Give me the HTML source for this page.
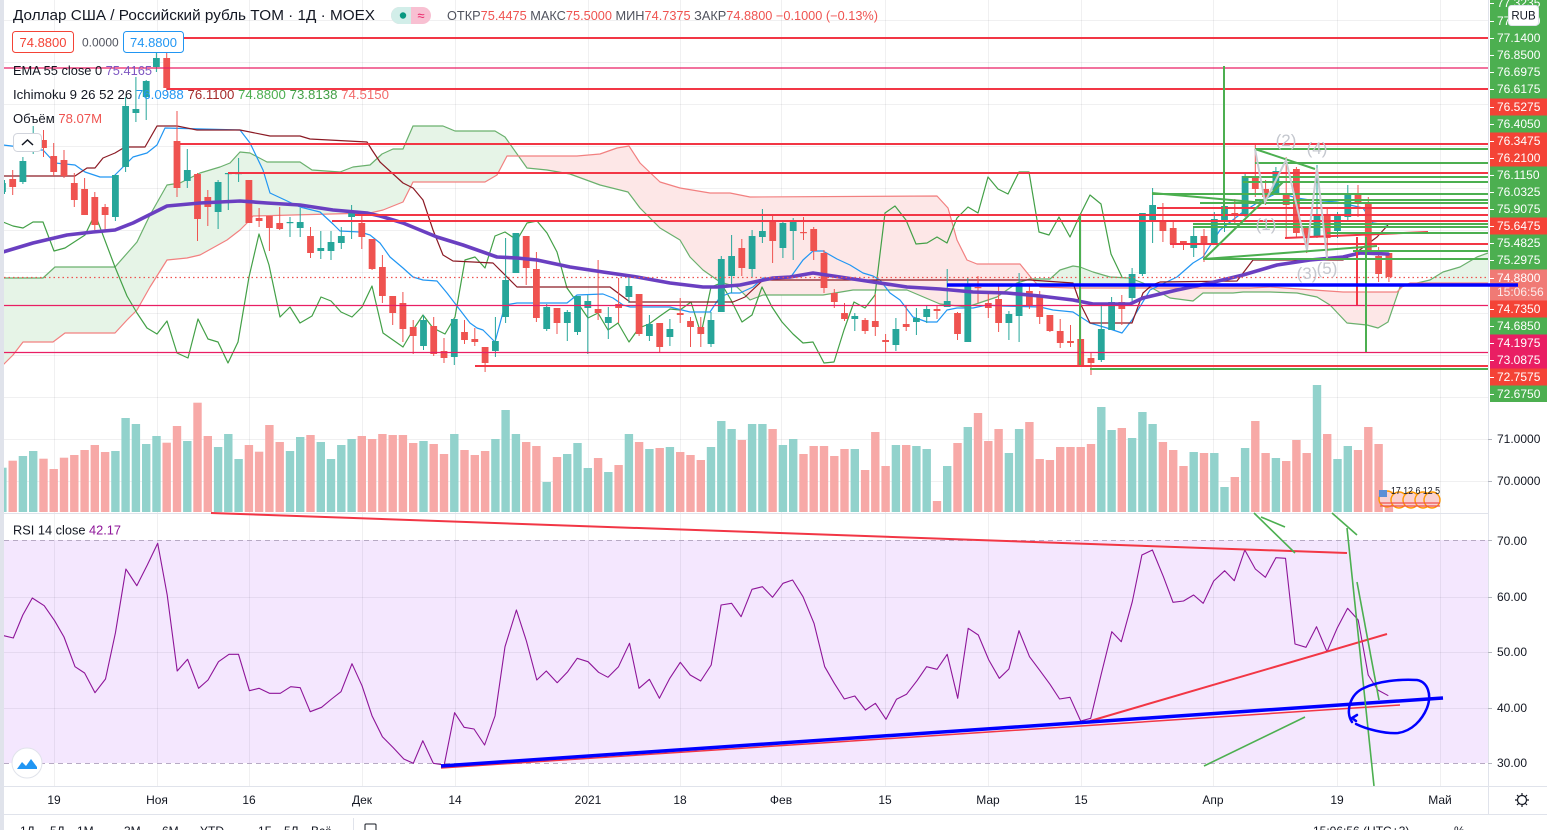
<!DOCTYPE html>
<html><head><meta charset="utf-8">
<style>
html,body{margin:0;padding:0;background:#fff;width:1547px;height:830px;overflow:hidden}
svg{display:block}
text{font-family:"Liberation Sans","DejaVu Sans",sans-serif}
</style></head><body>
<svg id="c" width="1547" height="830" viewBox="0 0 1547 830" xmlns="http://www.w3.org/2000/svg">
<rect width="1547" height="830" fill="#fff"/>
<!-- RSI background -->
<rect x="4" y="540" width="1484" height="223" fill="#f4e7fe"/>
<!-- grid -->
<g stroke="rgba(42,46,57,0.07)" stroke-width="1" fill="none">
<path d="M54.5 0V786M157.5 0V786M249.5 0V786M362.5 0V786M455.5 0V786M588.5 0V786M680.5 0V786M781.5 0V786M885.5 0V786M988.5 0V786M1081.5 0V786M1213.5 0V786M1337.5 0V786M1440.5 0V786"/>
<path d="M4 20.5H1488M4 62.5H1488M4 104.5H1488M4 146.5H1488M4 188.5H1488M4 230.5H1488M4 272.5H1488M4 313.5H1488M4 355.5H1488M4 397.5H1488M4 439.5H1488M4 481.5H1488M4 597.5H1488M4 652.5H1488M4 708.5H1488"/>
</g>
<line x1="4" y1="540.5" x2="1488" y2="540.5" stroke="#b7aac4" stroke-dasharray="5,4"/>
<line x1="4" y1="763.5" x2="1488" y2="763.5" stroke="#b7aac4" stroke-dasharray="5,4"/>
<line x1="4" y1="513.5" x2="1488" y2="513.5" stroke="#e0e3eb"/>

<!-- volume -->
<g id="vol"></g>

<!-- ichimoku cloud -->
<defs>
<clipPath id="ab"><polygon points="3,0 3,365 13,355 23,342 53,342 65,333 115,333 127,320 137,310 150,287 167,260 187,258 200,255 227,240 240,230 247,223 253,216 370,213 383,210 403,202 413,182 485,182 497,175 507,156 577,156 600,154 617,148 629,146 640,163 660,182 680,188 710,193 730,193 750,197 937,196 948,208 957,240 967,260 977,264 1020,264 1033,280 1040,287 1073,288 1250,288 1270,287 1343,292 1397,292 1403,286 1410,283 1488,283 1488,0"/></clipPath>
<clipPath id="bb"><polygon points="3,830 3,365 13,355 23,342 53,342 65,333 115,333 127,320 137,310 150,287 167,260 187,258 200,255 227,240 240,230 247,223 253,216 370,213 383,210 403,202 413,182 485,182 497,175 507,156 577,156 600,154 617,148 629,146 640,163 660,182 680,188 710,193 730,193 750,197 937,196 948,208 957,240 967,260 977,264 1020,264 1033,280 1040,287 1073,288 1250,288 1270,287 1343,292 1397,292 1403,286 1410,283 1488,283 1488,830"/></clipPath>
</defs>
<polygon clip-path="url(#ab)" fill="#e6f4e7" points="3,278 43,278 55,267 65,267 115,267 137,242 150,215 167,185 180,183 200,173 220,167 230,163 240,152 250,153 267,162 300,162 312,170 340,172 353,167 370,165 382,154 393,149 403,149 413,126 443,126 455,131 495,131 505,137 527,168 547,170 570,174 600,185 628,192 640,208 660,228 680,240 690,257 703,270 720,282 737,287 750,300 763,295 823,295 853,290 907,290 940,304 967,307 997,297 1017,283 1030,279 1050,279 1060,270 1073,266 1080,267 1093,272 1110,277 1130,278 1143,283 1170,298 1193,301 1203,293 1233,293 1243,292 1270,292 1297,293 1317,297 1330,305 1347,323 1367,325 1378,328 1388,322 1400,287 1430,280 1443,272 1460,267 1477,257 1488,253 1488,283 1410,283 1403,286 1397,292 1343,292 1270,287 1250,288 1073,288 1040,287 1033,280 1020,264 977,264 967,260 957,240 948,208 937,196 750,197 730,193 710,193 680,188 660,182 640,163 629,146 617,148 600,154 577,156 507,156 497,175 485,182 413,182 403,202 383,210 370,213 253,216 247,223 240,230 227,240 200,255 187,258 167,260 150,287 137,310 127,320 115,333 65,333 53,342 23,342 13,355 3,365"/>
<polygon clip-path="url(#bb)" fill="#fde7e7" points="3,278 43,278 55,267 65,267 115,267 137,242 150,215 167,185 180,183 200,173 220,167 230,163 240,152 250,153 267,162 300,162 312,170 340,172 353,167 370,165 382,154 393,149 403,149 413,126 443,126 455,131 495,131 505,137 527,168 547,170 570,174 600,185 628,192 640,208 660,228 680,240 690,257 703,270 720,282 737,287 750,300 763,295 823,295 853,290 907,290 940,304 967,307 997,297 1017,283 1030,279 1050,279 1060,270 1073,266 1080,267 1093,272 1110,277 1130,278 1143,283 1170,298 1193,301 1203,293 1233,293 1243,292 1270,292 1297,293 1317,297 1330,305 1347,323 1367,325 1378,328 1388,322 1400,287 1430,280 1443,272 1460,267 1477,257 1488,253 1488,283 1410,283 1403,286 1397,292 1343,292 1270,287 1250,288 1073,288 1040,287 1033,280 1020,264 977,264 967,260 957,240 948,208 937,196 750,197 730,193 710,193 680,188 660,182 640,163 629,146 617,148 600,154 577,156 507,156 497,175 485,182 413,182 403,202 383,210 370,213 253,216 247,223 240,230 227,240 200,255 187,258 167,260 150,287 137,310 127,320 115,333 65,333 53,342 23,342 13,355 3,365"/>
<g fill="none" stroke-width="1.2" stroke-linejoin="round">
<polyline stroke="#6ab06d" points="3,278 43,278 55,267 65,267 115,267 137,242 150,215 167,185 180,183 200,173 220,167 230,163 240,152 250,153 267,162 300,162 312,170 340,172 353,167 370,165 382,154 393,149 403,149 413,126 443,126 455,131 495,131 505,137 527,168 547,170 570,174 600,185 628,192 640,208 660,228 680,240 690,257 703,270 720,282 737,287 750,300 763,295 823,295 853,290 907,290 940,304 967,307 997,297 1017,283 1030,279 1050,279 1060,270 1073,266 1080,267 1093,272 1110,277 1130,278 1143,283 1170,298 1193,301 1203,293 1233,293 1243,292 1270,292 1297,293 1317,297 1330,305 1347,323 1367,325 1378,328 1388,322 1400,287 1430,280 1443,272 1460,267 1477,257 1488,253"/>
<polyline stroke="#f28080" points="3,365 13,355 23,342 53,342 65,333 115,333 127,320 137,310 150,287 167,260 187,258 200,255 227,240 240,230 247,223 253,216 370,213 383,210 403,202 413,182 485,182 497,175 507,156 577,156 600,154 617,148 629,146 640,163 660,182 680,188 710,193 730,193 750,197 937,196 948,208 957,240 967,260 977,264 1020,264 1033,280 1040,287 1073,288 1250,288 1270,287 1343,292 1397,292 1403,286 1410,283 1488,283"/>
<!-- chikou -->
<polyline stroke="#43a047" points="3,222 13,226 23,228 33,222 43,222 54,251 65,248 85,235 95,214 115,267 127,296 137,313 147,328 157,334 167,321 177,353 188,358 198,319 208,339 218,342 228,363 238,342 249,277 259,234 269,265 280,317 290,307 300,323 312,316 321,297 331,301 341,312 352,317 362,307 372,286 383,333 403,347 413,330 423,315 433,328 445,334 455,317 465,260 475,257 485,268 495,236 505,232 517,240 527,223 537,221 547,233 557,252 567,288 577,302 588,318 598,313 608,330 618,323 629,342 639,328 649,324 660,316 670,309 680,310 691,302 701,334 711,287 721,283 731,300 742,322 752,315 762,287 772,307 782,322 793,334 803,343 813,342 824,363 834,362 844,330 854,302 865,308 875,295 885,213 895,206 906,220 916,244 927,243 937,237 947,243 957,218 968,207 978,213 988,177 998,189 1008,194 1019,172 1029,172 1039,232 1049,235 1059,217 1070,237 1080,215 1090,195 1101,204 1111,254 1122,277"/>
<!-- tenkan -->
<polyline stroke="#2196f3" points="3,145 20,147 33,150 43,150 55,163 75,165 85,172 100,177 113,177 123,167 133,157 147,153 157,145 165,128 240,130 250,143 263,170 270,193 300,207 320,212 333,224 340,231 360,232 370,235 380,243 390,257 403,268 413,277 423,280 437,281 447,293 460,310 470,323 477,328 483,330 495,342 505,305 517,303 567,303 577,295 603,294 613,298 623,305 630,307 670,307 690,312 710,312 720,297 730,293 740,293 753,287 763,278 790,278 803,260 813,251 823,251 837,259 850,265 863,273 873,276 880,280 890,293 900,300 913,317 927,322 937,322 947,310 957,308 973,308 987,305 1000,306 1040,307 1053,310 1073,312 1090,323 1107,328 1122,333 1132,320 1150,290 1177,277 1193,263 1203,257 1220,230 1243,212 1257,203 1277,193 1290,196 1297,198 1310,200 1337,202 1363,208 1373,223 1388,225"/>
<!-- kijun -->
<polyline stroke="#8b1a24" points="3,176 75,176 87,168 95,168 103,158 115,153 125,147 145,147 157,126 177,126 197,130 240,130 270,136 300,136 310,139 367,142 372,150 380,162 403,183 413,188 423,200 433,230 443,255 453,261 493,263 517,287 527,287 610,287 630,302 733,302 745,297 763,280 1030,280 1073,283 1080,303 1090,323 1132,323 1143,293 1152,285 1160,282 1237,281 1253,260 1343,260 1357,252 1377,237 1388,225"/>
</g>

<!-- candles -->
<g id="cdl"></g>

<!-- EMA 55 -->
<polyline fill="none" stroke="#6a3fc1" stroke-width="3.6" stroke-linejoin="round" stroke-linecap="round" points="3,252 33,243 67,235 93,232 115,230 133,223 153,213 167,206 200,203 240,201 267,203 300,205 333,210 367,213 380,216 403,223 437,237 463,245 497,257 517,258 537,260 570,267 603,272 637,277 670,283 703,287 717,287 740,285 773,278 790,277 813,273 840,277 873,282 907,287 940,289 973,292 1007,293 1040,296 1073,300 1093,304 1130,304 1143,298 1177,290 1210,283 1243,275 1277,265 1310,260 1343,257 1360,253 1388,254"/>

<!-- horizontal drawings -->
<g stroke-width="1.2">
<line x1="4" y1="68" x2="1488" y2="68" stroke="#e91e63"/>
<line x1="4" y1="305.5" x2="1488" y2="305.5" stroke="#e91e63"/>
<line x1="4" y1="352.5" x2="1488" y2="352.5" stroke="#e91e63"/>
<line x1="4" y1="277.5" x2="1488" y2="277.5" stroke="#ef5350" stroke-dasharray="1.5,3"/>
</g>
<g stroke-width="2" stroke="#f23645">
<line x1="184" y1="38" x2="1488" y2="38"/>
<line x1="167" y1="89" x2="1488" y2="89"/>
<line x1="180" y1="144" x2="1488" y2="144"/>
<line x1="228" y1="173" x2="1488" y2="173"/>
<line x1="355" y1="215" x2="1488" y2="215"/>
<line x1="332" y1="221" x2="1488" y2="221"/>
<line x1="475" y1="366" x2="1488" y2="366"/>
<line x1="1157" y1="208" x2="1488" y2="208"/>
<line x1="1170" y1="244" x2="1488" y2="244"/>
<line x1="1285" y1="238" x2="1428" y2="232"/>
<line x1="1357" y1="237" x2="1357" y2="305"/>
</g>
<g stroke-width="2" stroke="#4caf50">
<line x1="1090" y1="369" x2="1488" y2="369"/>
<line x1="1255" y1="149" x2="1488" y2="149"/>
<line x1="1255" y1="163" x2="1488" y2="163"/>
<line x1="1243" y1="177" x2="1488" y2="177"/>
<line x1="1243" y1="182" x2="1488" y2="182"/>
<line x1="1152" y1="194" x2="1488" y2="194"/>
<line x1="1255" y1="200" x2="1488" y2="200"/>
<line x1="1200" y1="203" x2="1488" y2="203"/>
<line x1="1193" y1="224" x2="1488" y2="224"/>
<line x1="1193" y1="227" x2="1488" y2="227"/>
<line x1="1327" y1="233" x2="1488" y2="233"/>
<line x1="1353" y1="251" x2="1488" y2="251"/>
<line x1="1203" y1="259" x2="1488" y2="259"/>
<line x1="1152" y1="193" x2="1265" y2="203"/>
<line x1="1204" y1="259" x2="1283" y2="182"/>
<line x1="1255" y1="149" x2="1315" y2="169"/>
<line x1="1204" y1="259" x2="1377" y2="246"/>
<line x1="1224" y1="66" x2="1224" y2="217"/>
<line x1="1366" y1="237" x2="1366" y2="352"/>
<line x1="1080" y1="215" x2="1080" y2="365"/>
</g>
<line x1="947" y1="285" x2="1518" y2="285" stroke="#0000ff" stroke-width="3.5"/>
<!-- elliott -->
<polyline fill="none" stroke="#c9ccd3" stroke-width="2" points="1255,149 1265,202 1286,160 1307,250 1317,168 1327,258"/>
<g font-size="17" fill="#c4c7ce" text-anchor="middle">
<text x="1266" y="230">(1)</text>
<text x="1286" y="146">(2)</text>
<text x="1307" y="279">(3)</text>
<text x="1317" y="154">(4)</text>
<text x="1327" y="274">(5)</text>
</g>

<!-- RSI -->
<polyline fill="none" stroke="#8e1599" stroke-width="1.1" stroke-linejoin="round" points="3.8,635.7 13.3,638 22.8,615 32.3,598 44.2,605.7 54.6,620.7 64,637 75,666.7 84.6,673 95,692.7 105.5,679 115.4,633 125.9,569 136.8,585.7 147.3,565 157.7,543.3 167.2,595 177.2,671 187.6,659.3 198.6,688.3 208,680 218.5,661.7 229,654.3 238.5,654.3 249.4,690.7 259,688.3 269.4,693.3 280.3,693.3 290.7,686.7 300.2,687.7 310.2,711.7 321.6,707.3 331.6,699 341,691.7 352,663.7 362,685.7 372,715.7 382.4,736.7 393.3,747.7 403.8,759 413.3,763.3 422.8,740.7 433.3,763.3 444.2,765 454.6,712.7 464.1,727.3 474,729 484.6,745 495,716 505,646.7 516.4,610 526.4,641 536.8,680 546.3,671 557.2,682.7 567.7,671.7 577.2,658.3 588,661.7 598.6,672.3 608,677.3 618.5,666.7 629.5,643.3 639,688.3 649.4,679.3 659.4,698.3 669.8,678.3 680.3,662.3 690.2,675 700.7,681 711.2,665 721.1,605 731.6,603.3 741.1,616.7 752,589.3 762.5,586.7 772.5,597.3 783,583.3 792.6,580 803,596.7 814,623.3 824.7,666.7 834.3,683.3 844.3,699 854.8,696 865.4,710 875.4,703.3 886,719.3 896.5,699.3 906.5,694.3 917,680.7 926.6,666.7 937,669.3 947.2,654.3 957.7,698.3 968.2,628.3 978.3,635 988.8,660 999.3,678.3 1008.9,669 1019,630.7 1029.5,656.7 1040,670.7 1050,684.3 1059.6,699 1070,697.3 1080.7,721 1090.7,718.3 1101.2,674.3 1111.8,631.7 1121.3,641.7 1132.3,601.7 1141.9,555 1152.4,550 1163.4,576.7 1173,602.3 1183.5,601 1193.6,595 1203.2,603.3 1213.7,581 1224.7,570.7 1234.3,580.7 1244.8,550 1255.3,569 1265.4,577.3 1275.9,557.7 1285.5,558.3 1295,644 1306,647.3 1316.5,626.7 1327,651.7 1337.1,628.3 1347.6,608.3 1358.2,620 1368.2,675 1377.8,690 1388.3,695.7"/>
<g stroke-width="2" stroke="#f23645">
<line x1="211" y1="513" x2="1347" y2="553"/>
<line x1="1090" y1="721" x2="1387" y2="634"/>
<line x1="441" y1="768" x2="1400" y2="705" stroke-width="1.5"/>
</g>
<line x1="441" y1="766" x2="1443" y2="698" stroke="#0000ff" stroke-width="3.5"/>
<g stroke="#4caf50" stroke-width="1.6">
<line x1="1254" y1="513" x2="1295" y2="553"/>
<line x1="1261" y1="517" x2="1285" y2="527"/>
<line x1="1332" y1="513" x2="1357" y2="535"/>
<line x1="1347" y1="528" x2="1374" y2="786"/>
<line x1="1357" y1="582" x2="1379" y2="700"/>
<line x1="1204" y1="766" x2="1305" y2="717"/>
</g>
<path d="M1352,722 C1345,712 1350,694 1364,688 C1378,681 1400,679 1417,680 C1428,682 1432,695 1427,708 C1422,720 1412,731 1398,733 C1385,734 1366,729 1356,724 M1357,715 L1352,718 L1356,721" fill="none" stroke="#0000ff" stroke-width="2.5" stroke-linecap="round"/>

<!-- legend -->
<text x="13" y="20" font-size="14.5" fill="#131722" textLength="362" lengthAdjust="spacingAndGlyphs">Доллар США / Российский рубль TOM · 1Д · MOEX</text>
<rect x="391" y="7" width="40" height="17" rx="8.5" fill="#f8c0d2"/>
<path d="M399.5,7 H411 V24 H399.5 A8.5,8.5 0 0 1 399.5,7 Z" fill="#d2eee9"/>
<circle cx="403" cy="15.5" r="3.2" fill="#089981"/>
<text x="421" y="20" font-size="13" fill="#e91e63" text-anchor="middle">≈</text>
<text x="447" y="20" font-size="12.5" textLength="431" lengthAdjust="spacingAndGlyphs"><tspan fill="#50535e">ОТКР</tspan><tspan fill="#ef5350">75.4475</tspan><tspan fill="#50535e"> МАКС</tspan><tspan fill="#ef5350">75.5000</tspan><tspan fill="#50535e"> МИН</tspan><tspan fill="#ef5350">74.7375</tspan><tspan fill="#50535e"> ЗАКР</tspan><tspan fill="#ef5350">74.8800 −0.1000 (−0.13%)</tspan></text>
<rect x="12.5" y="31.5" width="61" height="21" rx="3" fill="#fff" stroke="#f44336"/>
<text x="43" y="47" font-size="13" fill="#f44336" text-anchor="middle">74.8800</text>
<text x="82" y="46.5" font-size="12" fill="#50535e">0.0000</text>
<rect x="123.5" y="31.5" width="60" height="21" rx="3" fill="#fff" stroke="#2196f3"/>
<text x="153.5" y="47" font-size="13" fill="#2196f3" text-anchor="middle">74.8800</text>
<text x="13" y="75" font-size="13" textLength="139" lengthAdjust="spacingAndGlyphs"><tspan fill="#131722">EMA 55 close 0 </tspan><tspan fill="#7e57c2">75.4165</tspan></text>
<text x="13" y="99" font-size="13" textLength="376" lengthAdjust="spacingAndGlyphs"><tspan fill="#131722">Ichimoku 9 26 52 26 </tspan><tspan fill="#2196f3">76.0988 </tspan><tspan fill="#a52a2a">76.1100 </tspan><tspan fill="#4caf50">74.8800 </tspan><tspan fill="#43a047">73.8138 </tspan><tspan fill="#f26b6b">74.5150</tspan></text>
<text x="13" y="123" font-size="13" textLength="89" lengthAdjust="spacingAndGlyphs"><tspan fill="#131722">Объём </tspan><tspan fill="#ef5350">78.07M</tspan></text>
<rect x="13.5" y="133.5" width="28" height="18" rx="4" fill="#fff" stroke="#d1d4dc"/>
<path d="M22,145 L27.5,140 L33,145" fill="none" stroke="#131722" stroke-width="1.5"/>
<text x="13" y="534.5" font-size="13" textLength="108" lengthAdjust="spacingAndGlyphs"><tspan fill="#131722">RSI 14 close </tspan><tspan fill="#8e1599">42.17</tspan></text>

<!-- earnings icons -->
<g>
<circle cx="1387" cy="499" r="8" fill="#f9d2d2" stroke="#ff9800" stroke-width="1.4"/>
<circle cx="1399" cy="500" r="8" fill="#f9d2d2" stroke="#ff9800" stroke-width="1.4"/>
<circle cx="1411" cy="500" r="8" fill="#f9d2d2" stroke="#ff9800" stroke-width="1.4"/>
<circle cx="1423" cy="500" r="8" fill="#f9d2d2" stroke="#ff9800" stroke-width="1.4"/>
<circle cx="1432" cy="500" r="8" fill="#f9d2d2" stroke="#ff9800" stroke-width="1.4"/>
<path d="M1380,503 H1440 M1380,506 H1440" stroke="#ef5350" stroke-width="1.3"/>
<rect x="1379" y="490" width="8" height="7" fill="#5b8fd6"/>
<text x="1391" y="494" font-size="10" fill="#131722" textLength="49" lengthAdjust="spacingAndGlyphs">17 12 6 12 5</text>
</g>

<!-- TV logo -->
<circle cx="27" cy="763" r="15" fill="#fff" stroke="#e0e3eb"/>
<path d="M17,769 L22,762 L26,766 L31,759 L37,767 L37,769 Z" fill="#2196f3"/>

<!-- right axis -->
<rect x="1488" y="0" width="59" height="830" fill="#fff"/>
<line x1="1488.5" y1="0" x2="1488.5" y2="814" stroke="#e0e3eb"/>
<rect x="1490" y="0" width="57" height="402" fill="#4caf50"/>
<rect x="1490" y="98.5" width="57" height="17" fill="#f44336"/>
<rect x="1490" y="132.5" width="57" height="34" fill="#f44336"/>
<rect x="1490" y="217.5" width="57" height="17" fill="#f44336"/>
<rect x="1490" y="269.5" width="57" height="31" fill="#f07a75"/>
<rect x="1490" y="300.5" width="57" height="17" fill="#f44336"/>
<rect x="1490" y="334.5" width="57" height="34" fill="#e91e63"/>
<rect x="1490" y="368.5" width="57" height="17" fill="#f44336"/>
<line x1="1488" y1="285" x2="1518" y2="285" stroke="#0000ff" stroke-width="3.5"/>
<g stroke="#fff" stroke-width="1">
<path d="M1490 3.5H1494M1490 21.5H1494M1490 38.5H1494M1490 55.5H1494M1490 72.5H1494M1490 89.5H1494M1490 107.5H1494M1490 124.5H1494M1490 141.5H1494M1490 158.5H1494M1490 175.5H1494M1490 192.5H1494M1490 209.5H1494M1490 226.5H1494M1490 243.5H1494M1490 260.5H1494M1490 278.5H1494M1490 309.5H1494M1490 326.5H1494M1490 343.5H1494M1490 360.5H1494M1490 377.5H1494M1490 394.5H1494"/>
</g>
<g font-size="12" fill="#fff">
<text x="1497" y="7">77.3235</text>
<text x="1497" y="25">77.2320</text>
<text x="1497" y="42">77.1400</text>
<text x="1497" y="59">76.8500</text>
<text x="1497" y="76">76.6975</text>
<text x="1497" y="93">76.6175</text>
<text x="1497" y="111">76.5275</text>
<text x="1497" y="128">76.4050</text>
<text x="1497" y="145">76.3475</text>
<text x="1497" y="162">76.2100</text>
<text x="1497" y="179">76.1150</text>
<text x="1497" y="196">76.0325</text>
<text x="1497" y="213">75.9075</text>
<text x="1497" y="230">75.6475</text>
<text x="1497" y="247">75.4825</text>
<text x="1497" y="264">75.2975</text>
<text x="1497" y="282">74.8800</text>
<text x="1497" y="296" fill-opacity="0.85">15:06:56</text>
<text x="1497" y="313">74.7350</text>
<text x="1497" y="330">74.6850</text>
<text x="1497" y="347">74.1975</text>
<text x="1497" y="364">73.0875</text>
<text x="1497" y="381">72.7575</text>
<text x="1497" y="398">72.6750</text>
</g>
<rect x="1508.5" y="5.5" width="30" height="20" rx="3" fill="#fff" stroke="#e0e3eb"/>
<text x="1523.5" y="19.5" font-size="11.5" fill="#131722" text-anchor="middle">RUB</text>
<g stroke="#b2b5be"><path d="M1488 439.5H1492M1488 481.5H1492M1488 540.5H1492M1488 597.5H1492M1488 652.5H1492M1488 708.5H1492M1488 763.5H1492"/></g>
<g font-size="12" fill="#131722">
<text x="1497" y="443">71.0000</text>
<text x="1497" y="485">70.0000</text>
<text x="1497" y="545">70.00</text>
<text x="1497" y="601">60.00</text>
<text x="1497" y="656">50.00</text>
<text x="1497" y="712">40.00</text>
<text x="1497" y="767">30.00</text>
</g>

<!-- time axis -->
<rect x="4" y="786" width="1484" height="28" fill="#fff"/>
<line x1="0" y1="786.5" x2="1547" y2="786.5" stroke="#e0e3eb"/>
<line x1="0" y1="814.5" x2="1547" y2="814.5" stroke="#e0e3eb"/>
<g font-size="12" fill="#131722" text-anchor="middle">
<text x="54" y="804">19</text>
<text x="157" y="804">Ноя</text>
<text x="249" y="804">16</text>
<text x="362" y="804">Дек</text>
<text x="455" y="804">14</text>
<text x="588" y="804">2021</text>
<text x="680" y="804">18</text>
<text x="781" y="804">Фев</text>
<text x="885" y="804">15</text>
<text x="988" y="804">Мар</text>
<text x="1081" y="804">15</text>
<text x="1213" y="804">Апр</text>
<text x="1337" y="804">19</text>
<text x="1440" y="804">Май</text>
</g>
<g stroke="#131722" stroke-width="1.2" fill="none">
<circle cx="1522" cy="800" r="4.5"/>
<path d="M1522,793V795M1522,805V807M1515,800H1517M1527,800H1529M1517,795L1518.5,796.5M1525.5,803.5L1527,805M1527,795L1525.5,796.5M1518.5,803.5L1517,805"/>
</g>
<!-- bottom toolbar (cut) -->
<g font-size="12" fill="#131722">
<text x="20" y="835">1Д</text><text x="50" y="835">5Д</text><text x="77" y="835">1М</text><text x="124" y="835">3М</text><text x="162" y="835">6М</text><text x="200" y="835">YTD</text><text x="258" y="835">1Г</text><text x="284" y="835">5Л</text><text x="311" y="835">Всё</text>
<text x="1313" y="835">15:06:56 (UTC+3)</text><text x="1454" y="835">%</text>
</g>
<line x1="353.5" y1="818" x2="353.5" y2="830" stroke="#e0e3eb"/>
<rect x="365" y="824" width="11" height="8" rx="1" fill="none" stroke="#131722"/>
<!-- left strip -->
<rect x="0" y="0" width="4" height="830" fill="#e0e3eb"/>
</svg>
<script>
(function(){
var C=[[183,192,180,194,1],[179,187,170,195,0],[161,182,157,184,1],[142,150,126,154,1],[140,148,130,157,0],[156,172,143,176,0],[160,176,150,178,0],[183,200,173,207,0],[189,215,178,215,0],[197,225,192,230,0],
[207,215,204,230,0],[175,217,175,221,1],[106,167,97,172,1],[109,113,77,122,1],[81,97,80,120,1],[58,67,52,72,1],[58,88,50,92,0],[141,188,111,197,0],[170,181,149,188,1],[174,219,173,241,0],
[197,207,190,226,0],[182,212,180,229,1],[173,174,173,210,1],[173,174,158,182,1],[180,223,180,223,0],[218,221,208,227,0],[216,228,216,251,0],[223,229,207,230,0],[222,223,217,237,1],[222,228,208,237,1],
[236,253,227,258,0],[248,251,231,259,1],[242,251,231,260,1],[236,243,227,249,1],[212,217,205,239,1],[223,237,213,249,0],[239,269,239,270,0],[267,296,255,303,0],[296,313,296,325,0],[303,329,292,342,0],
[327,336,320,354,0],[320,346,315,350,1],[326,354,317,356,0],[351,358,338,363,0],[319,357,319,365,1],[332,340,320,344,0],[339,342,328,346,0],[347,363,347,372,0],[341,351,317,357,1],[280,317,238,323,1],
[233,273,233,273,1],[236,268,236,285,0],[269,318,252,322,0],[307,329,304,331,1],[308,323,308,334,0],[312,323,310,341,1],[296,332,296,335,1],[301,308,295,354,1],[309,313,260,320,0],[317,323,307,339,1],
[304,308,278,323,0],[286,297,274,303,1],[294,334,294,336,0],[324,336,315,341,1],[323,347,323,352,0],[329,337,319,346,1],[313,315,298,323,0],[321,327,317,347,0],[327,334,317,347,0],[320,344,312,347,1],
[259,312,256,312,1],[256,276,235,293,1],[248,268,239,276,0],[236,269,230,278,1],[231,237,209,243,1],[221,241,215,263,0],[223,248,222,258,1],[220,231,218,260,1],[232,233,217,240,0],[229,251,227,260,0],
[253,288,250,293,0],[293,302,289,308,0],[313,319,303,321,0],[316,319,313,331,1],[320,331,318,334,0],[321,327,294,336,0],[340,342,334,352,0],[329,345,318,351,1],[324,327,305,331,0],[318,322,308,335,1],
[309,317,306,323,1],[309,311,305,319,0],[301,307,269,307,1],[313,334,312,340,0],[284,342,277,342,1],[287,288,276,303,0],[303,308,293,318,0],[299,323,286,332,0],[314,323,311,340,1],[283,316,273,342,1],
[291,305,286,309,0],[296,317,291,324,0],[315,331,315,332,0],[331,343,319,348,0],[341,343,325,347,0],[339,365,339,365,0],[358,363,353,375,0],[329,360,304,362,1],[302,330,297,330,1],[302,309,295,325,0],
[274,298,268,301,1],[213,274,213,276,1],[205,220,188,243,1],[221,231,203,242,0],[228,244,222,248,0],[241,245,241,250,0],[236,248,227,257,1],[236,243,229,262,0],[219,243,212,243,1],[206,222,201,232,1],
[213,214,199,223,0],[176,214,174,217,1],[178,189,143,197,0],[189,197,180,205,0],[171,193,167,193,1],[195,205,157,238,0],[169,233,167,238,0],[227,236,227,253,0],[216,236,165,238,1],[214,238,208,258,0],
[215,231,212,238,1],[194,217,185,222,1],[194,203,185,217,0],[202,250,197,252,0],[256,274,247,282,0],[253,277,253,282,0]];
var V=[218,197,183,168,191,222,188,180,165,150,171,168,69,87,147,123,143,93,138,23,123,156,117,192,150,170,90,141,168,126,120,141,192,150,132,123,132,117,120,120,144,138,147,177,117,165,180,168,132,45,117,141,153,261,186,177,144,219,189,231,210,117,141,162,159,156,171,180,195,156,78,102,135,
87,87,102,150,132,177,153,153,183,162,162,225,111,213,150,150,153,162,318,213,144,96,54,138,102,174,102,81,192,195,156,156,156,147,36,105,99,129,51,87,141,165,213,171,174,174,276,246,159,78,174,189,198,135,174,-30,117,192,153,165,96,147,290];
var vs='',cs='';
for(var i=0;i<C.length;i++){
 var c=C[i],x=2.4+10.27*i,g=c[4];
 if(i<V.length){
  var top=395+V[i]/3; if(top<384)top=384;
  var vx=Math.max(4,x-4.2), vw=x+4.2-vx;
  vs+='<rect x="'+vx.toFixed(1)+'" y="'+top.toFixed(1)+'" width="'+vw.toFixed(1)+'" height="'+(512-top).toFixed(1)+'" fill="'+(g?'#92d2cc':'#f7a9a7')+'"/>';
 }
 var col=g?'#26a69a':'#ef5350';
 var bx=Math.max(4,x-3.4), bw=x+3.4-bx;
 cs+='<rect x="'+Math.max(4,x-0.5).toFixed(1)+'" y="'+c[2]+'" width="1" height="'+Math.max(1,c[3]-c[2])+'" fill="'+col+'"/>';
 cs+='<rect x="'+bx.toFixed(1)+'" y="'+c[0]+'" width="'+bw.toFixed(1)+'" height="'+Math.max(1.2,c[1]-c[0])+'" fill="'+col+'"/>';
}
document.getElementById('vol').innerHTML=vs;
document.getElementById('cdl').innerHTML=cs;
})();
</script>
</body></html>
